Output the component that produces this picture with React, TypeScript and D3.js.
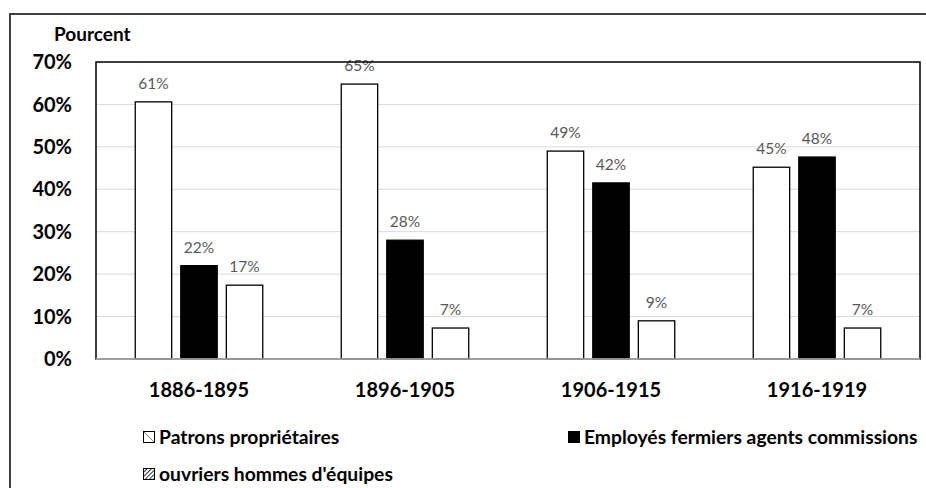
import React from "react";
import * as d3 from "d3";

const categories = ["1886-1895", "1896-1905", "1906-1915", "1916-1919"];
const seriesNames = ["Patrons propriétaires", "Employés fermiers agents commissions", "ouvriers hommes d'équipes"];
const patrons = [60.6, 64.8, 49.0, 45.2];
const employes = [22.0, 28.0, 41.5, 47.6];
const ouvriers = [17.4, 7.3, 9.0, 7.3];
const yTicks = [0, 10, 20, 30, 40, 50, 60, 70];

const W = 926, H = 488;
const plot = { left: 96, top: 62, right: 920, bottom: 359 };
const font = "Lato, 'Open Sans', sans-serif";

export default function App() {
  const series = [patrons, employes, ouvriers];
  const fills = ["#ffffff", "#000000", "#ffffff"];
  const x0 = d3.scaleBand<string>().domain(categories).range([plot.left, plot.right]).paddingInner(0).paddingOuter(0);
  const inner = 127.5;
  const x1 = d3.scaleBand<number>().domain([0, 1, 2]).range([0, inner]).paddingInner(0.2).paddingOuter(0);
  const off = (x0.bandwidth() - inner) / 2;
  const y = d3.scaleLinear().domain([0, 70]).range([plot.bottom, plot.top]);

  return (
    <svg width={W} height={H} style={{ display: "block", position: "absolute", left: 0, top: 0 }}>
      <defs>
        <pattern id="hatch" width="3" height="3" patternUnits="userSpaceOnUse" patternTransform="rotate(45)">
          <rect width="3" height="3" fill="#fff" />
          <line x1="0" y1="0" x2="0" y2="3" stroke="#000" strokeWidth="1.6" />
        </pattern>
        <linearGradient id="lg1" x1="0" y1="1" x2="1" y2="0">
          <stop offset="0" stopColor="#fff" />
          <stop offset="0.45" stopColor="#fff" />
          <stop offset="0.5" stopColor="#888" />
          <stop offset="0.55" stopColor="#fff" />
          <stop offset="1" stopColor="#fff" />
        </linearGradient>
      </defs>
      <rect x={0} y={0} width={W} height={H} fill="#fff" />
      <rect x={10} y={14} width={940} height={520} fill="none" stroke="#404040" strokeWidth={2} />
      {yTicks.map((t) => (
        <g key={t}>
          {t > 0 && t < 70 && (
            <line x1={plot.left} x2={plot.right} y1={y(t)} y2={y(t)} stroke="#d9d9d9" strokeWidth={1} />
          )}
          <text x={72} y={y(t)} dy="0.36em" textAnchor="end" fontFamily={font} fontWeight="bold" fontSize={20} fill="#000">
            {t}%
          </text>
        </g>
      ))}
      <text x={54} y={34} dy="0.36em" fontFamily={font} fontWeight="bold" fontSize={19} fill="#000">Pourcent</text>
      {categories.map((c, i) => (
        <g key={c}>
          {series.map((s, j) => {
            const bx = (x0(c) as number) + off + (x1(j) as number);
            const by = y(s[i]);
            return (
              <g key={j}>
                <rect x={bx} y={by} width={x1.bandwidth()} height={plot.bottom - by} fill={fills[j]} stroke="#000" strokeWidth={1.3} />
                <text x={bx + x1.bandwidth() / 2} y={by - 13} textAnchor="middle" fontFamily={font} fontSize={15.5} fill="#595959">
                  {Math.round(s[i])}%
                </text>
              </g>
            );
          })}
          <text x={(x0(c) as number) + x0.bandwidth() / 2} y={390} dy="0.36em" textAnchor="middle" fontFamily={font} fontWeight="bold" fontSize={20} fill="#000">
            {c}
          </text>
        </g>
      ))}
      <rect x={plot.left} y={plot.top} width={plot.right - plot.left} height={plot.bottom - plot.top} fill="none" stroke="#000" strokeWidth={1.5} />
      <line x1={plot.left} x2={plot.right} y1={plot.bottom} y2={plot.bottom} stroke="#bfbfbf" strokeWidth={1.5} />
      {/* legend */}
      <rect x={143.5} y={431.5} width={11} height={11} fill="url(#lg1)" stroke="#000" strokeWidth={1} />
      <text x={159} y={437} dy="0.36em" fontFamily={font} fontWeight="bold" fontSize={19.3} fill="#000">{seriesNames[0]}</text>
      <rect x={568.5} y={431.5} width={11} height={11} fill="#000" stroke="#000" strokeWidth={1} />
      <text x={584} y={437} dy="0.36em" fontFamily={font} fontWeight="bold" fontSize={19.3} fill="#000">{seriesNames[1]}</text>
      <rect x={143.5} y={468.5} width={11} height={11} fill="url(#hatch)" stroke="#000" strokeWidth={1} />
      <text x={159} y={474} dy="0.36em" fontFamily={font} fontWeight="bold" fontSize={19.3} fill="#000">{seriesNames[2]}</text>
    </svg>
  );
}
